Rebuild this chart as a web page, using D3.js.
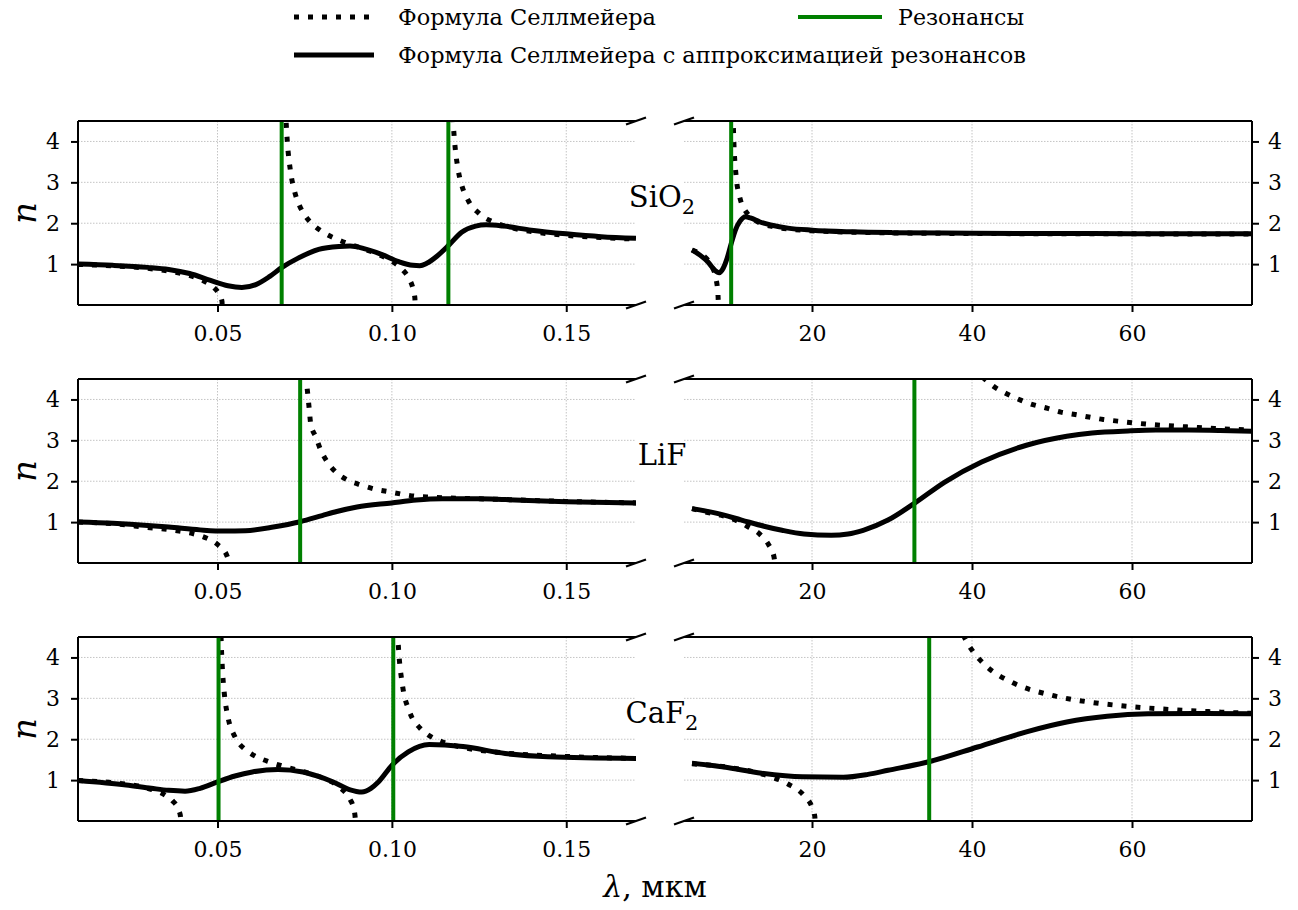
<!DOCTYPE html>
<html><head><meta charset="utf-8">
<script src="https://cdn.jsdelivr.net/npm/d3@7"></script>
<style>
body{margin:0;background:#fff}
svg{display:block}
svg text{font-family:"DejaVu Serif","Liberation Serif",serif;fill:#000}
</style>
</head><body>
<svg id="chart" width="1298" height="910"></svg>
<script>
// ---------- data ----------
const uvTicks = [0.05, 0.10, 0.15];
const irTicks = [20, 40, 60];
const nTicks = [1, 2, 3, 4];
const uvDomain = [0.01, 0.17];
const irDomain = [4, 75];
const nDomain = [0, 4.5];
const legendLabels = ["Формула Селлмейера", "Формула Селлмейера с аппроксимацией резонансов", "Резонансы"];
const xLabel = "λ, мкм";

const sio2Resonances = [0.0684, 0.1162, 9.896];
const lifResonances = [0.0737, 32.8];
const caf2Resonances = [0.0503, 0.1004, 34.65];

// SiO2
const sio2UvSolid = [[0.010,1.00],[0.020,0.97],[0.030,0.92],[0.036,0.87],[0.042,0.77],[0.048,0.60],[0.053,0.47],[0.057,0.43],[0.061,0.50],[0.065,0.70],[0.0685,0.92],[0.073,1.14],[0.079,1.36],[0.085,1.43],[0.088,1.44],[0.092,1.38],[0.097,1.24],[0.102,1.06],[0.106,0.97],[0.108,0.96],[0.110,1.02],[0.113,1.20],[0.1164,1.47],[0.120,1.78],[0.124,1.93],[0.127,1.96],[0.132,1.93],[0.140,1.83],[0.150,1.74],[0.160,1.67],[0.170,1.63]];
const sio2UvDot1 = [[0.010,0.991],[0.020,0.96],[0.030,0.897],[0.035,0.84],[0.040,0.764],[0.045,0.630],[0.048,0.49],[0.049,0.422],[0.050,0.330],[0.0505,0.26],[0.0510,0.177],[0.0513,0.08],[0.05133,0.0]];
const sio2UvDot2 = [[0.0695,4.8],[0.0697,4.435],[0.0700,4.02],[0.0710,3.233],[0.0720,2.81],[0.0735,2.435],[0.0750,2.20],[0.0775,1.956],[0.0800,1.795],[0.0850,1.583],[0.0900,1.427],[0.0950,1.275],[0.1000,1.071],[0.1030,0.869],[0.1050,0.633],[0.1060,0.423],[0.1065,0.229],[0.1066,0.161],[0.10668,0.0]];
const sio2UvDot3 = [[0.1175,4.6],[0.1177,4.31],[0.1180,3.98],[0.1190,3.308],[0.1200,2.94],[0.1220,2.538],[0.1250,2.24],[0.1300,2.00],[0.1350,1.875],[0.1400,1.797],[0.1500,1.703],[0.1600,1.648],[0.1700,1.611]];
const sio2IrSolid = [[5,1.35],[6,1.22],[7,1.05],[7.8,0.86],[8.4,0.79],[8.9,0.90],[9.4,1.15],[9.9,1.50],[10.4,1.82],[11,2.05],[11.7,2.16],[12.3,2.13],[13.5,2.03],[15,1.95],[17,1.88],[20,1.83],[25,1.79],[30,1.77],[40,1.755],[50,1.748],[60,1.745],[75,1.74]];
const sio2IrDot1 = [[5,1.34],[6,1.258],[7,1.098],[7.5,0.945],[8,0.641],[8.2,0.372],[8.25,0.244],[8.28,0.10],[8.285,0.0]];
const sio2IrDot2 = [[10.13,4.67],[10.2,4.17],[10.5,3.18],[11,2.61],[11.5,2.36],[12,2.216],[13,2.059],[15,1.922],[20,1.815],[30,1.764],[40,1.749],[60,1.740],[75,1.737]];

// LiF
const lifUvSolid = [[0.010,1.00],[0.020,0.97],[0.030,0.92],[0.036,0.88],[0.045,0.81],[0.052,0.78],[0.058,0.79],[0.066,0.88],[0.0737,1.01],[0.080,1.16],[0.0842,1.26],[0.090,1.37],[0.0999,1.47],[0.107,1.54],[0.1144,1.57],[0.125,1.57],[0.1325,1.55],[0.150,1.50],[0.170,1.47]];
const lifUvDot1 = [[0.010,1.00],[0.020,0.96],[0.030,0.87],[0.0347,0.83],[0.039,0.78],[0.0429,0.72],[0.0468,0.61],[0.0502,0.44],[0.0528,0.16],[0.0533,0.0]];
const lifUvDot2 = [[0.0752,4.6],[0.0755,4.42],[0.0763,3.77],[0.0767,3.42],[0.0782,3.08],[0.0796,2.76],[0.0815,2.47],[0.0842,2.20],[0.0875,2.02],[0.0914,1.90],[0.0954,1.80],[0.0993,1.74],[0.1031,1.68],[0.107,1.63],[0.111,1.61],[0.116,1.59],[0.125,1.57],[0.135,1.545],[0.150,1.505],[0.170,1.47]];
const lifIrSolid = [[5,1.33],[8,1.22],[11.2,1.05],[14,0.90],[16.25,0.80],[19,0.71],[22.4,0.68],[24.5,0.71],[26.4,0.80],[29.5,1.05],[32.8,1.46],[36.6,1.98],[41.2,2.47],[46.8,2.88],[51.85,3.10],[55,3.18],[59.5,3.23],[63,3.25],[67.1,3.25],[71,3.24],[75,3.22]];
const lifIrDot1 = [[5,1.33],[6.6,1.25],[8.6,1.17],[10.4,1.05],[11.9,0.90],[13.5,0.70],[14.6,0.44],[15.25,0.15],[15.35,0.0]];
const lifIrDot2 = [[41.3,4.55],[42.7,4.32],[44.2,4.15],[46,3.99],[47.5,3.88],[49.3,3.79],[51.1,3.69],[52.9,3.63],[54.6,3.57],[56.4,3.51],[58.2,3.47],[60,3.43],[63.5,3.37],[66.8,3.33],[70.3,3.29],[75,3.25]];

// CaF2
const caf2UvSolid = [[0.010,0.99],[0.0238,0.88],[0.031,0.80],[0.036,0.75],[0.0407,0.73],[0.045,0.80],[0.0498,0.95],[0.055,1.10],[0.060,1.20],[0.0673,1.26],[0.0745,1.20],[0.079,1.09],[0.083,0.96],[0.0878,0.77],[0.0914,0.71],[0.094,0.80],[0.0962,0.96],[0.1001,1.37],[0.1047,1.69],[0.1107,1.87],[0.1204,1.82],[0.1325,1.65],[0.1447,1.57],[0.170,1.53]];
const caf2UvDot1 = [[0.010,0.99],[0.020,0.935],[0.030,0.80],[0.035,0.633],[0.037,0.504],[0.039,0.24],[0.0394,0.10],[0.03945,0.0]];
const caf2UvDot2 = [[0.0509,4.87],[0.0510,4.54],[0.0511,4.28],[0.0515,3.58],[0.0520,3.08],[0.0530,2.54],[0.0550,2.06],[0.0580,1.745],[0.0600,1.625],[0.0650,1.44],[0.0700,1.314],[0.0750,1.198],[0.0800,1.057],[0.0850,0.8245],[0.0880,0.528],[0.0890,0.32],[0.0895,0.066],[0.08952,0.0]];
const caf2UvDot3 = [[0.1016,4.65],[0.1020,4.10],[0.1030,3.34],[0.1050,2.687],[0.1080,2.278],[0.1100,2.13],[0.1150,1.919],[0.1200,1.805],[0.1300,1.684],[0.1500,1.579],[0.1700,1.531]];
const caf2IrSolid = [[5,1.41],[9,1.32],[13.7,1.17],[18.8,1.08],[23.9,1.07],[27,1.14],[29.5,1.24],[34.6,1.45],[40.7,1.81],[46.8,2.18],[51.85,2.42],[56.9,2.56],[62,2.62],[68,2.63],[75,2.62]];
const caf2IrDot1 = [[5,1.399],[10,1.30],[13,1.187],[15,1.073],[17,0.905],[19,0.62],[20,0.34],[20.3,0.165],[20.35,0.11],[20.39,0.0]];
const caf2IrDot2 = [[38.9,4.55],[39.5,4.33],[40,4.18],[42,3.75],[45,3.39],[50,3.073],[55,2.90],[60,2.795],[65,2.723],[70,2.671],[75,2.633]];

// ---------- layout ----------
const FONT = '"DejaVu Serif","Liberation Serif",serif';
const uvRange = [78, 636];
const irRange = [684, 1252];
const rowTops = [121, 379, 637];
const rowH = 184;

const rows = [
  {name:["SiO","2"], res:sio2Resonances, uvSolid:sio2UvSolid, uvDots:[sio2UvDot1,sio2UvDot2,sio2UvDot3], irSolid:sio2IrSolid, irDots:[sio2IrDot1,sio2IrDot2]},
  {name:["LiF",""], res:lifResonances, uvSolid:lifUvSolid, uvDots:[lifUvDot1,lifUvDot2], irSolid:lifIrSolid, irDots:[lifIrDot1,lifIrDot2]},
  {name:["CaF","2"], res:caf2Resonances, uvSolid:caf2UvSolid, uvDots:[caf2UvDot1,caf2UvDot2,caf2UvDot3], irSolid:caf2IrSolid, irDots:[caf2IrDot1,caf2IrDot2]}
];

const svg = d3.select("#chart");
const GREEN = "#008000";
const LW = 5;

function drawPanel(row, ri, side) {
  const top = rowTops[ri], bot = top + rowH;
  const isUV = side === "uv";
  const x = d3.scaleLinear().domain(isUV ? uvDomain : irDomain).range(isUV ? uvRange : irRange);
  const y = d3.scaleLinear().domain(nDomain).range([bot, top]);
  const [x0, x1] = x.range();
  const g = svg.append("g");
  const clipId = `clip-${ri}-${side}`;
  svg.append("clipPath").attr("id", clipId).append("rect")
    .attr("x", x0).attr("y", top).attr("width", x1 - x0).attr("height", rowH);

  const ticksX = isUV ? uvTicks : irTicks;
  g.selectAll(".gx").data(ticksX).join("line")
    .attr("x1", d => x(d)).attr("x2", d => x(d)).attr("y1", top).attr("y2", bot)
    .attr("stroke", "#c4c4c4").attr("stroke-width", 1).attr("stroke-dasharray", "1.5,1.5");
  g.selectAll(".gy").data(nTicks).join("line")
    .attr("x1", x0).attr("x2", x1).attr("y1", d => y(d)).attr("y2", d => y(d))
    .attr("stroke", "#c4c4c4").attr("stroke-width", 1).attr("stroke-dasharray", "1.5,1.5");

  const line = d3.line().x(d => x(d[0])).y(d => y(d[1])).curve(d3.curveMonotoneX);
  const cg = g.append("g").attr("clip-path", `url(#${clipId})`);
  const dots = isUV ? row.uvDots : row.irDots;
  dots.forEach(br => {
    cg.append("path").attr("d", line(br)).attr("fill", "none").attr("stroke", "#000")
      .attr("stroke-width", LW).attr("stroke-dasharray", "5,9");
  });
  cg.append("path").attr("d", line(isUV ? row.uvSolid : row.irSolid)).attr("fill", "none")
    .attr("stroke", "#000").attr("stroke-width", LW).attr("stroke-linejoin", "round");
  const res = row.res.filter(r => r >= x.domain()[0] && r <= x.domain()[1]);
  cg.selectAll(".res").data(res).join("line")
    .attr("x1", d => x(d)).attr("x2", d => x(d)).attr("y1", top).attr("y2", bot)
    .attr("stroke", GREEN).attr("stroke-width", 4);

  g.append("line").attr("x1", x0).attr("x2", x1).attr("y1", top).attr("y2", top).attr("stroke", "#000").attr("stroke-width", 2);
  g.append("line").attr("x1", x0).attr("x2", x1).attr("y1", bot).attr("y2", bot).attr("stroke", "#000").attr("stroke-width", 2);
  const sx = isUV ? x0 : x1;
  g.append("line").attr("x1", sx).attr("x2", sx).attr("y1", top).attr("y2", bot).attr("stroke", "#000").attr("stroke-width", 2);
  const bx = isUV ? x1 : x0;
  [top, bot].forEach(yy => {
    g.append("line").attr("x1", bx - 10).attr("x2", bx + 10).attr("y1", yy + 3.5).attr("y2", yy - 3.5)
      .attr("stroke", "#000").attr("stroke-width", 2.2);
  });

  const ax = d3.axisBottom(x).tickValues(ticksX).tickSize(7).tickSizeOuter(0).tickPadding(13)
    .tickFormat(isUV ? d3.format(".2f") : d3.format("d"));
  const axg = g.append("g").attr("transform", `translate(0,${bot})`).call(ax);
  const ay = isUV ? d3.axisLeft(y).tickValues(nTicks).tickSize(7).tickSizeOuter(0).tickPadding(11).tickFormat(d3.format("d"))
                  : d3.axisRight(y).tickValues(nTicks).tickSize(7).tickSizeOuter(0).tickPadding(9).tickFormat(d3.format("d"));
  const ayg = g.append("g").attr("transform", `translate(${isUV ? x0 : x1},0)`).call(ay);
  [axg, ayg].forEach(a => {
    a.attr("font-family", FONT).attr("font-size", 22);
    a.select(".domain").remove();
    a.selectAll(".tick line").attr("stroke-width", 2);
    a.selectAll("text").attr("fill", "#000");
  });
}

rows.forEach((row, ri) => {
  drawPanel(row, ri, "uv");
  drawPanel(row, ri, "ir");
  const top = rowTops[ri];
  svg.append("text").attr("transform", `translate(24,${top + rowH/2}) rotate(-90)`)
    .attr("text-anchor", "middle").attr("dominant-baseline", "central")
    .attr("font-size", 34).attr("font-style", "italic").text("n");
  const t = svg.append("text").attr("x", 662).attr("y", top + 86).attr("text-anchor", "middle").attr("font-size", 29);
  t.append("tspan").text(row.name[0]);
  if (row.name[1]) t.append("tspan").attr("dy", 7).attr("font-size", 21).text(row.name[1]);
});

const xl = svg.append("text").attr("x", 655).attr("y", 897).attr("text-anchor", "middle").attr("font-size", 30);
xl.append("tspan").attr("font-style", "italic").text(xLabel.slice(0,1));
xl.append("tspan").text(xLabel.slice(1));

const lg = svg.append("g");
lg.append("line").attr("x1", 294).attr("x2", 374).attr("y1", 17).attr("y2", 17)
  .attr("stroke", "#000").attr("stroke-width", LW).attr("stroke-dasharray", "5,9");
lg.append("text").attr("x", 398).attr("y", 25).attr("font-size", 23)
  .attr("textLength", 258).attr("lengthAdjust", "spacingAndGlyphs").text(legendLabels[0]);
lg.append("line").attr("x1", 294).attr("x2", 374).attr("y1", 55).attr("y2", 55)
  .attr("stroke", "#000").attr("stroke-width", LW);
lg.append("text").attr("x", 398).attr("y", 63).attr("font-size", 23)
  .attr("textLength", 628).attr("lengthAdjust", "spacingAndGlyphs").text(legendLabels[1]);
lg.append("line").attr("x1", 798).attr("x2", 882).attr("y1", 17).attr("y2", 17)
  .attr("stroke", GREEN).attr("stroke-width", 4);
lg.append("text").attr("x", 898).attr("y", 25).attr("font-size", 23)
  .attr("textLength", 126).attr("lengthAdjust", "spacingAndGlyphs").text(legendLabels[2]);
</script>
</body></html>
